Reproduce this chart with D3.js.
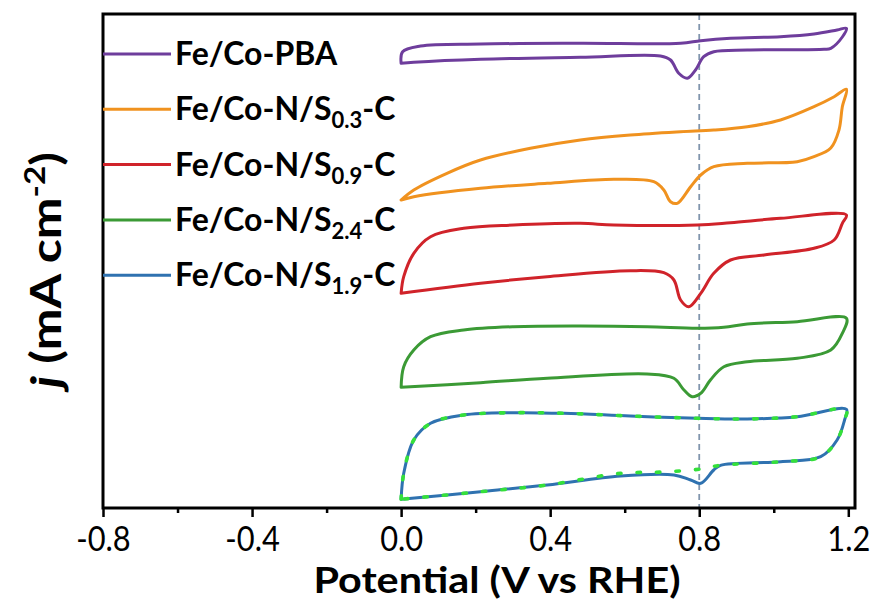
<!DOCTYPE html>
<html>
<head>
<meta charset="utf-8">
<script src="https://cdn.jsdelivr.net/npm/d3@7"></script>
<style>
  html, body { margin: 0; padding: 0; background: #fff; }
  svg { display: block; }
</style>
</head>
<body>
<svg id="chart" width="874" height="600"></svg>
<script>
// Cyclic voltammograms, stacked with vertical offsets (arbitrary j units).
// Each loop: anodic sweep 0 -> 1.2 V, then cathodic sweep back to 0 V.
const seriesNames = [
  "Fe/Co-PBA",
  "Fe/Co-N/S0.3-C",
  "Fe/Co-N/S0.9-C",
  "Fe/Co-N/S2.4-C",
  "Fe/Co-N/S1.9-C"
];
const seriesColors = ["#6e3d9c", "#f0921f", "#d0232a", "#3b9a35", "#2f72b0"];

const pbaLoop = [
  [0.0, 44.47], [0.004, 45.63], [0.052, 46.2], [0.213, 46.4], [0.481, 46.47],
  [0.750, 46.47], [0.804, 46.73], [0.884, 46.97], [1.018, 47.13], [1.108, 47.4],
  [1.170, 47.8], [1.195, 47.97],
  [1.184, 47.1], [1.153, 45.97], [1.135, 45.87], [0.929, 45.8], [0.839, 45.63],
  [0.812, 45.13], [0.790, 43.8], [0.768, 42.97], [0.745, 43.47], [0.723, 44.8],
  [0.696, 45.2], [0.481, 45.07], [0.213, 44.87], [0.034, 44.57], [0.0, 44.47]
];
const s03Loop = [
  [0.0, 30.8], [0.034, 31.8], [0.123, 33.47], [0.213, 34.8], [0.347, 35.97],
  [0.481, 36.8], [0.615, 37.3], [0.750, 37.63], [0.839, 37.8], [0.929, 38.13],
  [1.018, 38.8], [1.108, 40.13], [1.162, 41.13], [1.195, 41.87],
  [1.184, 40.13], [1.175, 37.8], [1.153, 36.0], [1.108, 35.13], [1.063, 34.63],
  [0.929, 34.47], [0.839, 34.13], [0.804, 33.3], [0.777, 32.13], [0.741, 30.47],
  [0.723, 30.63], [0.705, 31.8], [0.678, 32.63], [0.571, 32.87], [0.392, 32.47],
  [0.213, 31.97], [0.034, 31.13], [0.0, 30.8]
];
const s09Loop = [
  [0.0, 21.47], [0.007, 23.13], [0.034, 25.47], [0.079, 27.13], [0.168, 27.97],
  [0.302, 28.3], [0.481, 28.47], [0.571, 28.3], [0.795, 28.3], [0.884, 28.53],
  [1.018, 28.97], [1.195, 29.3],
  [1.184, 28.47], [1.162, 26.8], [1.108, 25.97], [0.974, 25.3], [0.884, 24.8],
  [0.839, 23.47], [0.804, 21.47], [0.772, 20.13], [0.750, 20.8], [0.732, 22.8],
  [0.705, 23.53], [0.615, 23.73], [0.392, 23.13], [0.213, 22.47], [0.0, 21.47]
];
const s24Loop = [
  [0.0, 12.07], [0.007, 14.13], [0.034, 15.8], [0.079, 17.13], [0.168, 17.8],
  [0.302, 18.13], [0.481, 18.2], [0.660, 18.13], [0.795, 17.97], [0.866, 18.07],
  [0.929, 18.4], [1.063, 18.63], [1.195, 18.97],
  [1.184, 17.47], [1.153, 15.8], [1.063, 14.97], [0.929, 14.63], [0.866, 14.13],
  [0.830, 12.8], [0.804, 11.47], [0.781, 11.13], [0.759, 11.8], [0.732, 12.97],
  [0.660, 13.4], [0.392, 12.97], [0.213, 12.53], [0.0, 12.07]
];
const s19Loop = [
  [0.0, 0.87], [0.007, 3.47], [0.034, 6.8], [0.079, 8.47], [0.168, 9.3],
  [0.302, 9.53], [0.437, 9.47], [0.615, 9.2], [0.795, 8.97], [0.929, 8.9],
  [1.063, 9.13], [1.195, 9.87],
  [1.190, 8.8], [1.170, 6.8], [1.126, 5.13], [1.018, 4.63], [0.857, 4.27],
  [0.839, 3.8], [0.804, 2.47], [0.777, 2.8], [0.732, 3.3], [0.589, 3.2],
  [0.392, 2.3], [0.213, 1.63], [0.0, 0.87]
];
// Dotted overlay on the S1.9 loop (no reduction dip)
const s19Baseline = [
  [0.0, 0.87], [0.007, 3.47], [0.034, 6.8], [0.079, 8.47], [0.168, 9.3],
  [0.302, 9.53], [0.437, 9.47], [0.615, 9.2], [0.795, 8.97], [0.929, 8.9],
  [1.063, 9.13], [1.195, 9.87],
  [1.190, 8.8], [1.170, 6.8], [1.126, 5.13], [1.018, 4.63], [0.857, 4.27],
  [0.804, 3.9], [0.700, 3.6], [0.589, 3.47],
  [0.392, 2.3], [0.213, 1.63], [0.0, 0.87]
];
const loops = [pbaLoop, s03Loop, s09Loop, s24Loop, s19Loop];

const xTicks = [-0.8, -0.4, 0.0, 0.4, 0.8, 1.2];
const xTickLabels = ["-0.8", "-0.4", "0.0", "0.4", "0.8", "1.2"];
const xMinorTicks = [-0.6, -0.2, 0.2, 0.6, 1.0];
const refPotential = 0.8;

const svg = d3.select("#chart");
const margin = { left: 103, right: 19, top: 14, bottom: 92 };
const W = 874, H = 600;
const innerW = W - margin.left - margin.right;
const innerH = H - margin.top - margin.bottom;

const x = d3.scaleLinear().domain([-0.8, 1.218]).range([margin.left, margin.left + innerW]);
const y = d3.scaleLinear().domain([0, 49.4]).range([margin.top + innerH, margin.top]);

const line = d3.line()
  .x(d => x(d[0]))
  .y(d => y(d[1]))
  .curve(d3.curveCatmullRom.alpha(0.5));

const bodyFont = "Lato, 'Open Sans', 'DejaVu Sans', sans-serif";

// Reference potential line
svg.append("line")
  .attr("x1", x(refPotential)).attr("x2", x(refPotential))
  .attr("y1", margin.top).attr("y2", margin.top + innerH)
  .attr("stroke", "#8195ad")
  .attr("stroke-width", 1.8)
  .attr("stroke-dasharray", "6,4");

// CV loops
loops.forEach((data, i) => {
  svg.append("path")
    .datum(data)
    .attr("fill", "none")
    .attr("stroke", seriesColors[i])
    .attr("stroke-width", 3)
    .attr("stroke-linejoin", "round")
    .attr("stroke-linecap", "round")
    .attr("d", line);
});

svg.append("path")
  .datum(s19Baseline)
  .attr("fill", "none")
  .attr("stroke", "#35e03a")
  .attr("stroke-width", 3.6)
  .attr("stroke-linecap", "round")
  .attr("stroke-dasharray", "3.5,16")
  .attr("d", line);

// Bottom axis: major + minor ticks, outward
const xAxis = d3.axisBottom(x)
  .tickValues(xTicks)
  .tickSize(9)
  .tickSizeOuter(0)
  .tickFormat((d, i) => xTickLabels[i]);

const gx = svg.append("g")
  .attr("transform", `translate(0,${margin.top + innerH})`)
  .call(xAxis);
gx.select(".domain").remove();
gx.selectAll(".tick line").attr("stroke", "#000").attr("stroke-width", 2.5);
gx.selectAll(".tick text")
  .attr("fill", "#000")
  .attr("font-family", bodyFont)
  .attr("font-size", 35)
  .attr("y", 43)
  .attr("dy", 0)
  .attr("transform", "scale(0.88,1)");

const gxMinor = svg.append("g")
  .attr("transform", `translate(0,${margin.top + innerH})`)
  .call(d3.axisBottom(x).tickValues(xMinorTicks).tickSize(5).tickFormat(""));
gxMinor.select(".domain").remove();
gxMinor.selectAll(".tick line").attr("stroke", "#000").attr("stroke-width", 2.5);

// Frame
svg.append("rect")
  .attr("x", margin.left).attr("y", margin.top)
  .attr("width", innerW).attr("height", innerH)
  .attr("fill", "none")
  .attr("stroke", "#000")
  .attr("stroke-width", 3);

// Axis titles
svg.append("text")
  .attr("x", 497).attr("y", 593)
  .attr("text-anchor", "middle")
  .attr("font-family", bodyFont)
  .attr("font-weight", "bold")
  .attr("font-size", 36)
  .attr("textLength", 367)
  .attr("lengthAdjust", "spacingAndGlyphs")
  .text("Potential (V vs RHE)");

const yTitle = svg.append("text")
  .attr("transform", "translate(61,270) rotate(-90)")
  .attr("text-anchor", "middle")
  .attr("font-family", bodyFont)
  .attr("font-weight", "bold")
  .attr("font-size", 42)
  .attr("textLength", 236)
  .attr("lengthAdjust", "spacingAndGlyphs");
yTitle.append("tspan").attr("font-style", "italic").text("j");
yTitle.append("tspan").text(" (mA cm");
yTitle.append("tspan").attr("font-size", 28).attr("dy", -16).text("-2");
yTitle.append("tspan").attr("dy", 16).text(")");

// Legend
const legendParts = [
  ["Fe/Co-PBA", null, null],
  ["Fe/Co-N/S", "0.3", "-C"],
  ["Fe/Co-N/S", "0.9", "-C"],
  ["Fe/Co-N/S", "2.4", "-C"],
  ["Fe/Co-N/S", "1.9", "-C"]
];
const legend = svg.append("g");
seriesNames.forEach((name, i) => {
  const ly = 54 + i * 55.3;
  const g = legend.append("g").attr("transform", `translate(0,${ly})`);
  g.append("line")
    .attr("x1", margin.left).attr("x2", 171)
    .attr("y1", 0).attr("y2", 0)
    .attr("stroke", seriesColors[i])
    .attr("stroke-width", 3);
  const t = g.append("text")
    .attr("x", 175).attr("y", 11)
    .attr("font-family", bodyFont)
    .attr("font-weight", "bold")
    .attr("font-size", 32)
    .attr("fill", "#000");
  const p = legendParts[i];
  t.append("tspan").text(p[0]);
  if (p[1]) {
    t.append("tspan").attr("font-size", 22).attr("dy", 8).text(p[1]);
    t.append("tspan").attr("dy", -8).text(p[2]);
  }
});
</script>
</body>
</html>
